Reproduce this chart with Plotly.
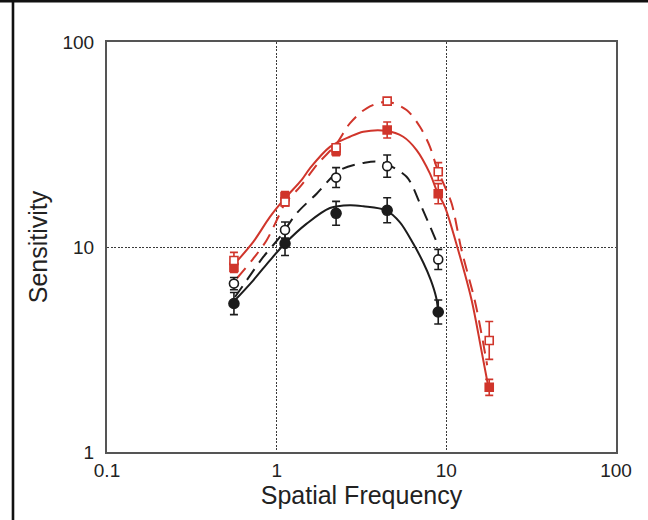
import plotly.graph_objects as go

# ---------------- data ----------------
freq = [0.56, 1.12, 2.24, 4.48, 8.96, 17.9]

black_filled = [5.3, 10.4, 14.6, 15.1, 4.82]
black_filled_err_up = [0.70, 1.50, 2.10, 2.28, 0.69]
black_filled_err_dn = [0.62, 1.31, 1.84, 1.98, 0.61]

black_open = [6.63, 12.1, 21.8, 24.8, 8.7]
black_open_err_up = [0.47, 1.15, 2.6, 3.3, 1.04]
black_open_err_dn = [0.44, 1.05, 2.3, 2.9, 0.93]

red_filled = [7.95, 17.6, 29.5, 37.2, 18.2, 2.07]
red_filled_err_up = [0.46, 1.03, 1.7, 3.5, 2.17, 0.19]
red_filled_err_dn = [0.44, 0.98, 1.6, 3.2, 1.94, 0.18]

red_open = [8.6, 16.6, 30.5, 51.5, 23.3, 3.5]
red_open_err_up = [0.81, 0.76, 1.4, 0.0, 2.5, 0.83]
red_open_err_dn = [0.74, 0.73, 1.3, 0.0, 2.2, 0.67]

# fitted curves
red_solid_x = [0.555, 0.728, 0.913, 1.12, 1.40, 1.57, 2.06, 2.70, 3.24, 4.41,
               5.57, 6.68, 8.01, 8.76, 9.81, 11.75, 14.1, 16.1, 17.7]
red_solid_y = [8.14, 10.59, 14.02, 17.3, 21.2, 24.2, 30.8, 34.5, 36.5, 36.9,
               34.5, 29.7, 22.8, 18.9, 15.7, 9.64, 5.50, 3.13, 2.07]

red_dash_x = [0.583, 0.728, 0.873, 1.022, 1.119, 1.372, 1.75, 2.26, 2.70, 3.39,
              4.45, 5.83, 6.99, 8.01, 8.76, 9.81, 10.75, 12.3, 14.7, 16.1, 17.4]
red_dash_y = [7.04, 8.78, 10.79, 14.0, 16.3, 19.65, 25.5, 32.0, 40.1, 47.5,
              51.1, 46.6, 38.6, 30.8, 24.6, 19.65, 16.3, 9.64, 5.50, 3.79, 2.65]

black_dash_x = [0.568, 0.666, 0.834, 1.046, 1.312, 1.721, 2.36, 3.24, 4.06,
                5.83, 6.99, 8.37, 8.68]
black_dash_y = [5.70, 6.88, 8.94, 11.2, 14.6, 18.2, 23.7, 25.7, 26.0,
                22.0, 16.3, 11.6, 10.8]

black_solid_x = [0.555, 0.728, 0.913, 1.119, 1.503, 2.06, 2.70, 3.24, 4.41,
                 5.33, 6.38, 7.31, 8.10, 8.70, 8.96]
black_solid_y = [5.39, 6.88, 8.61, 10.4, 13.0, 15.5, 16.0, 15.8, 15.1,
                 13.2, 10.4, 8.4, 6.9, 5.7, 4.82]

x_ticks = [0.1, 1, 10, 100]
x_tick_labels = ["0.1", "1", "10", "100"]
y_ticks = [1, 10, 100]
y_tick_labels = ["1", "10", "100"]

x_title = "Spatial Frequency"
y_title = "Sensitivity"

# ---------------- styling ----------------
RED = "#d0352b"
BLACK = "#1c1c1c"
FONT = "Liberation Sans, Arial, Helvetica, sans-serif"

fig = go.Figure()

def curve(xs, ys, color, dash):
    fig.add_trace(go.Scatter(
        x=xs, y=ys, mode="lines",
        line=dict(color=color, width=2, dash=dash, shape="spline", smoothing=0.9),
        hoverinfo="skip"))

curve(black_solid_x, black_solid_y, BLACK, "solid")
curve(black_dash_x, black_dash_y, BLACK, "13px,8px")
curve(red_solid_x, red_solid_y, RED, "solid")
curve(red_dash_x, red_dash_y, RED, "13px,8px")

def points(xs, ys, up, dn, color, symbol, fill, size):
    fig.add_trace(go.Scatter(
        x=xs, y=ys, mode="markers",
        marker=dict(symbol=symbol, size=size, color=fill,
                    line=dict(color=color, width=1.6)),
        error_y=dict(type="data", symmetric=False, array=up, arrayminus=dn,
                     color=color, thickness=1.6, width=4)))

n_black = len(black_filled)
points(freq[:n_black], black_filled, black_filled_err_up, black_filled_err_dn,
       BLACK, "circle", BLACK, 10)
points(freq[:n_black], black_open, black_open_err_up, black_open_err_dn,
       BLACK, "circle", "white", 9)
points(freq, red_filled, red_filled_err_up, red_filled_err_dn,
       RED, "square", RED, 8)
points(freq, red_open, red_open_err_up, red_open_err_dn,
       RED, "square", "white", 8)

axis_common = dict(
    type="log",
    showline=True, linecolor="#555555", linewidth=2, mirror=True,
    showgrid=True, gridcolor="#3a3a3a", gridwidth=1.3, griddash="2px,1.5px",
    zeroline=False, ticks="",
    tickfont=dict(family=FONT, size=19, color="#222"),
)

fig.update_layout(
    width=648, height=520,
    margin=dict(l=107, r=32, t=42, b=68),
    plot_bgcolor="white", paper_bgcolor="white",
    showlegend=False,
    font=dict(family=FONT, color="#222"),
    xaxis=dict(axis_common, range=[-1, 2], tickvals=x_ticks, ticktext=x_tick_labels,
               ticklabelstandoff=0,
               title=dict(text=x_title, font=dict(family=FONT, size=25, color="#222"),
                          standoff=0)),
    yaxis=dict(axis_common, range=[0, 2], tickvals=y_ticks, ticktext=y_tick_labels,
               ticklabelstandoff=7,
               title=dict(text=y_title, font=dict(family=FONT, size=25, color="#222"),
                          standoff=8)),
    shapes=[
        dict(type="line", xref="paper", yref="paper",
             x0=-0.25, x1=1.1, y0=1.0994, y1=1.0994,
             line=dict(color="#111", width=2.6)),
        dict(type="line", xref="paper", yref="paper",
             x0=-0.1847, x1=-0.1847, y0=-0.2, y1=1.11,
             line=dict(color="#111", width=2.6)),
    ],
)

fig.write_html("out.html",
               config={"displayModeBar": False},
               post_script="document.body.style.margin='0';document.body.style.padding='0';")
